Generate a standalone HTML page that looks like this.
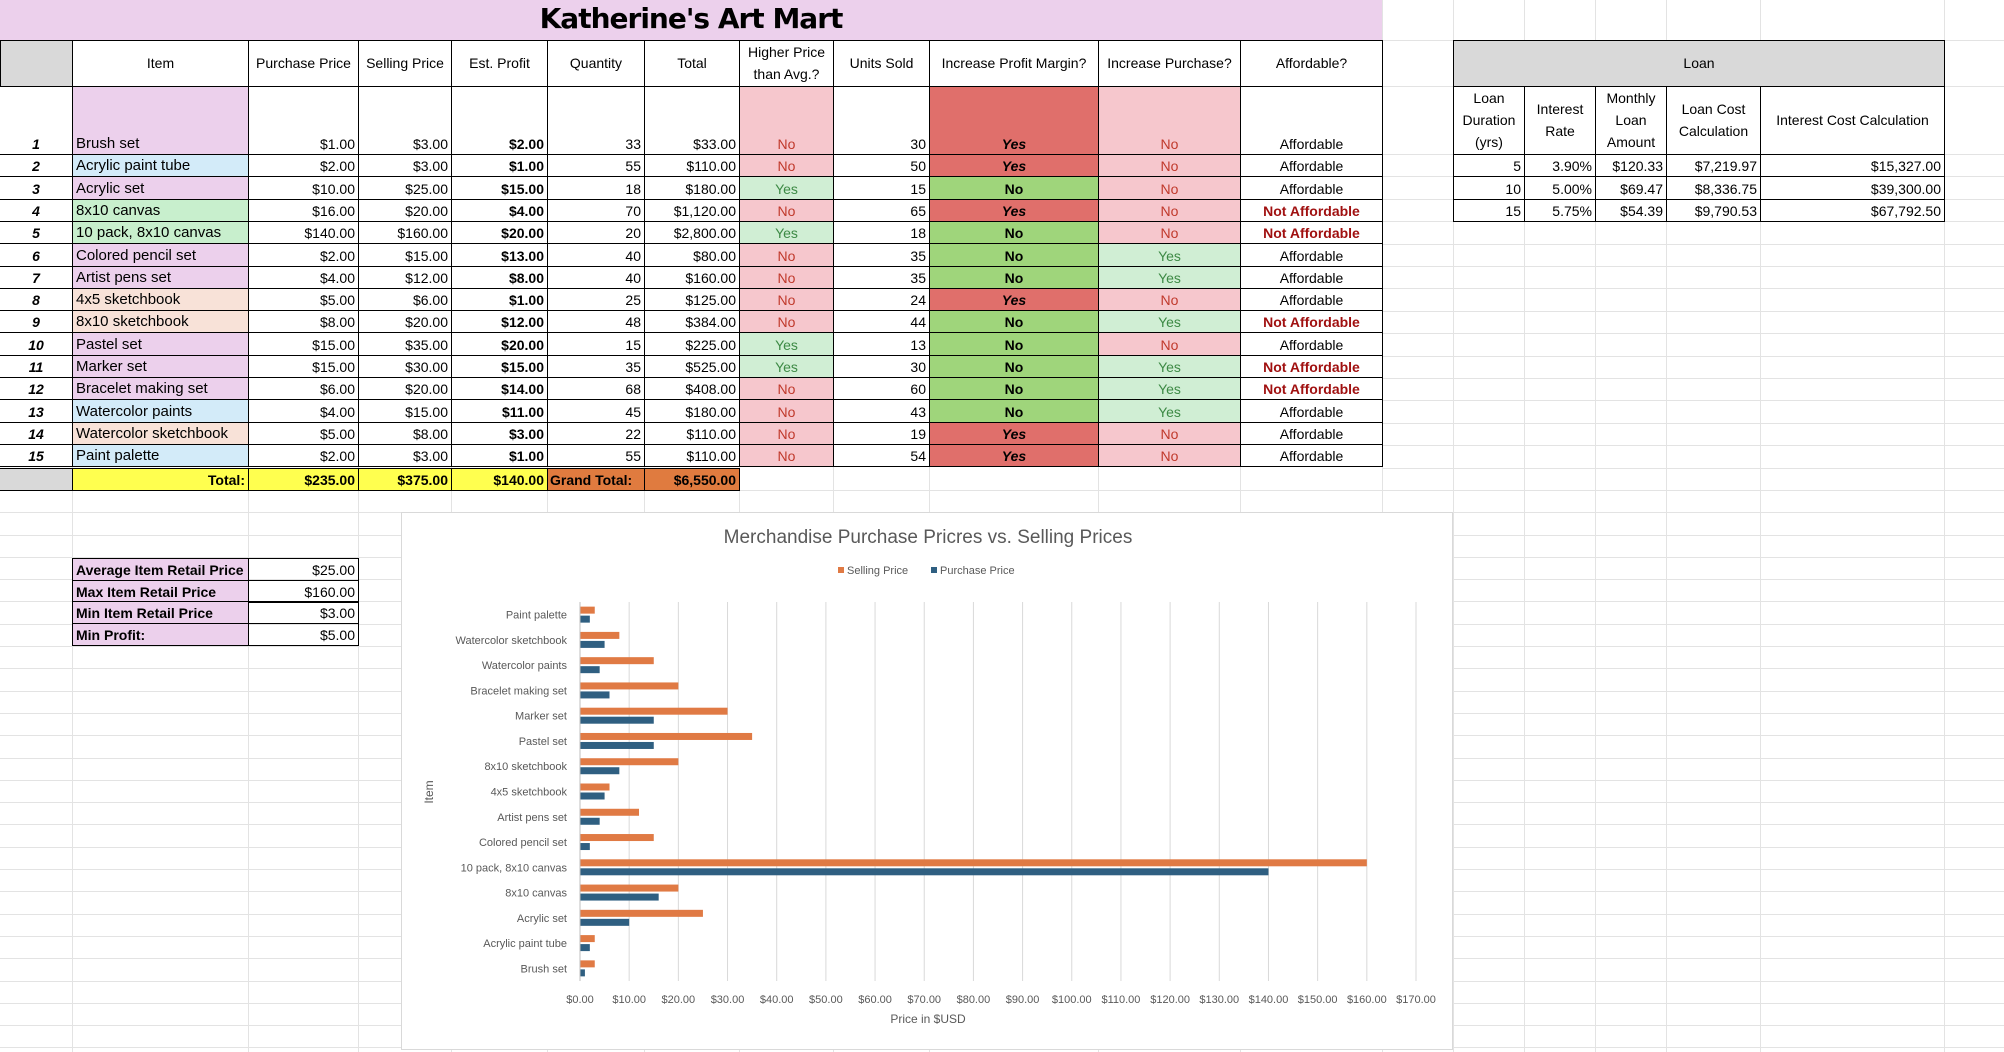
<!DOCTYPE html>
<html><head><meta charset="utf-8">
<style>
body{margin:0;width:2004px;height:1052px;position:relative;overflow:hidden;background:#fff;font-family:"Liberation Sans",sans-serif;}
.c{position:absolute;box-sizing:border-box;border:1px solid #000;font-size:14px;display:flex;align-items:flex-end;padding:0 3px 2px 3px;white-space:nowrap;overflow:hidden;}
.g{position:absolute;background:#e3e3e3;}
</style></head><body>
<div id="grid"></div>
<div style="position:absolute;left:0;top:0;width:1382px;height:40px;background:#ecd0ec;"></div>
<div style="position:absolute;left:0;top:2px;width:1382px;text-align:center;font-size:28px;font-weight:bold;font-family:'DejaVu Sans',sans-serif;letter-spacing:-1px;">Katherine's Art Mart</div>
<div id="cells"></div>
<svg id="chart" style="position:absolute;left:401px;top:512px;" width="1052" height="538"></svg>
<script>
const items=["Brush set","Acrylic paint tube","Acrylic set","8x10 canvas","10 pack, 8x10 canvas","Colored pencil set","Artist pens set","4x5 sketchbook","8x10 sketchbook","Pastel set","Marker set","Bracelet making set","Watercolor paints","Watercolor sketchbook","Paint palette"];
const purchase=[1,2,10,16,140,2,4,5,8,15,15,6,4,5,2];
const selling=[3,3,25,20,160,15,12,6,20,35,30,20,15,8,3];
const qty=[33,55,18,70,20,40,40,25,48,15,35,68,45,22,55];
const sold=[30,50,15,65,18,35,35,24,44,13,30,60,43,19,54];
const higher=["No","No","Yes","No","Yes","No","No","No","No","Yes","Yes","No","No","No","No"];
const incMargin=["Yes","Yes","No","Yes","No","No","No","Yes","No","No","No","No","No","Yes","Yes"];
const incPurch=["No","No","No","No","No","Yes","Yes","No","Yes","No","Yes","Yes","Yes","No","No"];
const afford=["A","A","A","N","N","A","A","A","N","A","N","N","A","A","A"];
const itemColor=["#ecd0ec","#d3ebf9","#ecd0ec","#c8efcd","#c8efcd","#ecd0ec","#ecd0ec","#f8e2d8","#f8e2d8","#ecd0ec","#ecd0ec","#ecd0ec","#d3ebf9","#f8e2d8","#d3ebf9"];
const xTicks=[0,10,20,30,40,50,60,70,80,90,100,110,120,130,140,150,160,170];

const cx=[0,72,248,358,451,547,644,739,833,929,1098,1240,1382];
function money(v){return "$"+v.toLocaleString("en-US",{minimumFractionDigits:2,maximumFractionDigits:2});}
const host=document.getElementById("cells");
function cell(x,y,w,h,text,st,name,inter){
  const d=document.createElement("div");
  d.className="c";
  d.style.left=x+"px";d.style.top=y+"px";d.style.width=(w+1)+"px";d.style.height=(h+1)+"px";
  if(st)d.style.cssText+=st;
  d.textContent=text;
  
  
  host.appendChild(d);return d;
}
// gridlines
const grid=document.getElementById("grid");
const gcols=[72,248,358,451,547,644,739,833,929,1098,1240,1382,1453,1524,1595,1666,1760,1944];
gcols.forEach(x=>{const l=document.createElement("div");l.className="g";l.style.cssText+="left:"+x+"px;top:0;width:1px;height:1052px;";grid.appendChild(l);});
for(let y=490;y<1052;y+=22.3){const l=document.createElement("div");l.className="g";l.style.cssText+="left:0;top:"+Math.round(y)+"px;width:2004px;height:1px;";grid.appendChild(l);}
[40,86,154,176,199,221,244,266,288,311,333,356,378,400,423,445,468].forEach(y=>{const l=document.createElement("div");l.className="g";l.style.cssText+="left:1382px;top:"+y+"px;width:622px;height:1px;";grid.appendChild(l);});

// header
const heads=["","Item","Purchase Price","Selling Price","Est. Profit","Quantity","Total","Higher Price<br>than Avg.?","Units Sold","Increase Profit Margin?","Increase Purchase?","Affordable?"];
for(let i=0;i<12;i++){
  const d=cell(cx[i],40,cx[i+1]-cx[i],46,"",i==0?"background:#d9d9d9;":"justify-content:center;align-items:center;text-align:center;line-height:22px;","header-"+i,false);
  d.innerHTML=heads[i];
}
const rowY=[86,154];for(let k=1;k<15;k++)rowY.push(Math.round(154+22.3*k));
for(let r=0;r<15;r++){
  const y=rowY[r],h=rowY[r+1]-y;
  cell(cx[0],y,72,h,String(r+1),"border-left:none;justify-content:center;font-style:italic;font-weight:bold;","row-number",false);
  cell(cx[1],y,cx[2]-cx[1],h,items[r],"background:"+itemColor[r]+";font-size:15px;","item-name",true);
  cell(cx[2],y,cx[3]-cx[2],h,money(purchase[r]),"justify-content:flex-end;","purchase-price",true);
  cell(cx[3],y,cx[4]-cx[3],h,money(selling[r]),"justify-content:flex-end;","selling-price",true);
  cell(cx[4],y,cx[5]-cx[4],h,money(selling[r]-purchase[r]),"justify-content:flex-end;font-weight:bold;","est-profit",false);
  cell(cx[5],y,cx[6]-cx[5],h,String(qty[r]),"justify-content:flex-end;","quantity",true);
  cell(cx[6],y,cx[7]-cx[6],h,money(qty[r]*purchase[r]),"justify-content:flex-end;","total",false);
  const hy=higher[r]=="Yes";
  cell(cx[7],y,cx[8]-cx[7],h,higher[r],"justify-content:center;background:"+(hy?"#d0eed4":"#f6c7cd")+";color:"+(hy?"#3d8a45":"#c0392b")+";","higher-than-avg",false);
  cell(cx[8],y,cx[9]-cx[8],h,String(sold[r]),"justify-content:flex-end;","units-sold",true);
  const my=incMargin[r]=="Yes";
  cell(cx[9],y,cx[10]-cx[9],h,incMargin[r],"justify-content:center;font-weight:bold;background:"+(my?"#e06f6b":"#9fd57b")+";"+(my?"font-style:italic;":""),"increase-margin",false);
  const py=incPurch[r]=="Yes";
  cell(cx[10],y,cx[11]-cx[10],h,incPurch[r],"justify-content:center;background:"+(py?"#d0eed4":"#f6c7cd")+";color:"+(py?"#3d8a45":"#c0392b")+";","increase-purchase",false);
  const na=afford[r]=="N";
  cell(cx[11],y,cx[12]-cx[11],h,na?"Not Affordable":"Affordable","justify-content:center;"+(na?"color:#a01010;font-weight:bold;":""),"affordable",false);
}
// totals
cell(0,468,72,22,"","background:#d9d9d9;border-left:none;","total-row-blank",false);
cell(72,468,176,22,"Total:","background:#ffff4f;justify-content:flex-end;font-weight:bold;","total-label",false);
cell(248,468,110,22,"$235.00","background:#ffff4f;justify-content:flex-end;font-weight:bold;","total-purchase",false);
cell(358,468,93,22,"$375.00","background:#ffff4f;justify-content:flex-end;font-weight:bold;","total-selling",false);
cell(451,468,96,22,"$140.00","background:#ffff4f;justify-content:flex-end;font-weight:bold;","total-profit",false);
cell(547,468,97,22,"Grand Total:","background:#e07b3f;font-weight:bold;padding-left:2px;","grand-total-label",false);
cell(644,468,95,22,"$6,550.00","background:#e07b3f;justify-content:flex-end;font-weight:bold;","grand-total",false);
// stats
const stats=[["Average Item Retail Price","$25.00"],["Max Item Retail Price","$160.00"],["Min Item Retail Price","$3.00"],["Min Profit:","$5.00"]];
stats.forEach((s,i)=>{const y=Math.round(558+21.5*i);
  cell(72,y,176,22,s[0],"background:#ecd0ec;font-weight:bold;font-size:14px;","stat-label",false);
  cell(248,y,110,22,s[1],"justify-content:flex-end;","stat-value",false);});
// loan
cell(1453,40,491,46,"Loan","background:#d9d9d9;justify-content:center;align-items:center;","loan-header",false);
const lx=[1453,1524,1595,1666,1760,1944];
const lh=["Loan<br>Duration<br>(yrs)","Interest<br>Rate","Monthly<br>Loan<br>Amount","Loan Cost<br>Calculation","Interest Cost Calculation"];
lh.forEach((t,i)=>{const d=cell(lx[i],86,lx[i+1]-lx[i],68,"","justify-content:center;align-items:center;text-align:center;line-height:22px;","loan-subheader",false);d.innerHTML=t;});
const loanRows=[["5","3.90%","$120.33","$7,219.97","$15,327.00"],["10","5.00%","$69.47","$8,336.75","$39,300.00"],["15","5.75%","$54.39","$9,790.53","$67,792.50"]];
loanRows.forEach((row,r)=>{row.forEach((t,i)=>{cell(lx[i],rowY[r+1],lx[i+1]-lx[i],rowY[r+2]-rowY[r+1],t,"justify-content:flex-end;","loan-value",false);});});

// chart
const NS="http://www.w3.org/2000/svg";
const svg=document.getElementById("chart");
function el(tag,attrs,text){const e=document.createElementNS(NS,tag);for(const k in attrs)e.setAttribute(k,attrs[k]);if(text!==undefined)e.textContent=text;svg.appendChild(e);return e;}
const X0=179,XW=836,XMAX=170,PT=90,PB=469;
const xs=v=>X0+v/XMAX*XW;
const band=(PB-PT)/items.length;
const catY=i=>PT+(items.length-1-i)*band+band/2;
let e;
e=el("rect",{x:0.5,y:0.5,width:1051,height:537,fill:"#fff",stroke:"#d9d9d9"});


e=el("text",{x:527,y:31,"text-anchor":"middle","font-size":"19","fill":"#595959","font-family":"Liberation Sans, sans-serif"},"Merchandise Purchase Pricres vs. Selling Prices");


xTicks.forEach(t=>{
  e=el("line",{x1:xs(t),x2:xs(t),y1:PT,y2:PB,stroke:"#d9d9d9"});
  
  
  e=el("text",{x:xs(t),y:PB+22,"text-anchor":"middle","font-size":"11","fill":"#595959"},"$"+t.toFixed(2));
  
  
});
items.forEach((name,i)=>{
  const cy=catY(i);
  e=el("rect",{x:xs(0),y:cy-8,width:xs(selling[i])-xs(0),height:7,fill:"#e07a44"});
  
  
  e=el("rect",{x:xs(0),y:cy+1,width:xs(purchase[i])-xs(0),height:7,fill:"#2f5f81"});
  
  
  e=el("text",{x:166,y:cy+4,"text-anchor":"end","font-size":"11","fill":"#595959"},name);
  
  
});
e=el("line",{x1:xs(0),x2:xs(0),y1:PT,y2:PB,stroke:"#bfbfbf"});


e=el("text",{x:527,y:PB+42,"text-anchor":"middle","font-size":"12","fill":"#595959"},"Price in $USD");


e=el("text",{x:0,y:0,transform:"translate(32,280) rotate(-90)","text-anchor":"middle","font-size":"12","fill":"#595959"},"Item");


e=el("rect",{x:437,y:55,width:6,height:6,fill:"#e07a44"});


e=el("text",{x:446,y:62,"font-size":"11","fill":"#595959"},"Selling Price");


e=el("rect",{x:530,y:55,width:6,height:6,fill:"#2f5f81"});


e=el("text",{x:539,y:62,"font-size":"11","fill":"#595959"},"Purchase Price");


</script>
</body></html>
